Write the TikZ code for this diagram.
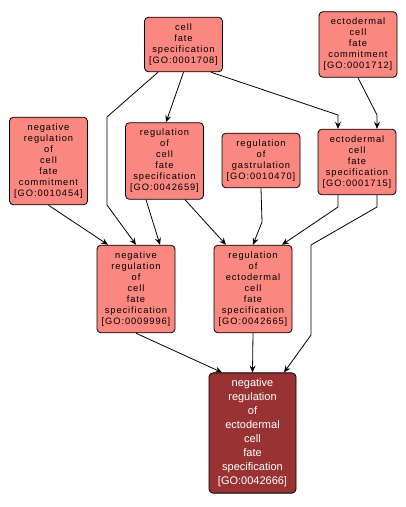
\documentclass[tikz,border=0pt]{standalone}
\usepackage{fontspec}
\setmainfont{Liberation Sans}
\newfontfamily\gofont[LetterSpace=10]{Liberation Sans}
\usetikzlibrary{arrows.meta}
\definecolor{termfill}{RGB}{250,135,128}
\definecolor{queryfill}{RGB}{153,51,51}

\begin{document}
\begin{tikzpicture}[x=1pt,y=1pt,yscale=-1,
    term/.style={draw=black, line width=0.8pt, fill=termfill, rounded corners=4pt, align=center,
        minimum width=78pt, inner xsep=2pt, inner ysep=6.5pt,
        font={\gofont\fontsize{9.3}{11}\selectfont}},
    query/.style={term, fill=queryfill, text=white, minimum width=87pt, inner ysep=6pt,
        font={\fontsize{11}{14}\selectfont}},
    isa/.style={draw=black, line width=0.8pt, -{Stealth[length=7pt,width=6pt,inset=2.5pt]}}]
        %set diagram to the size of the reference
        \useasboundingbox (0,0) rectangle (406,507);

        % Term Nodes
        \node [term] (cfs)   at (183.5,44.5) {cell\\fate\\specification\\{[GO:0001708]}};
        \node [term] (ecfc)  at (358,44.5)   {ectodermal\\cell\\fate\\commitment\\{[GO:0001712]}};
        \node [term] (ncfc)  at (48.5,161)   {negative\\regulation\\of\\cell\\fate\\commitment\\{[GO:0010454]}};
        \node [term] (rcfs)  at (164.5,161)  {regulation\\of\\cell\\fate\\specification\\{[GO:0042659]}};
        \node [term] (rgas)  at (261,160.5)  {regulation\\of\\gastrulation\\{[GO:0010470]}};
        \node [term] (ecfs)  at (357,162)    {ectodermal\\cell\\fate\\specification\\{[GO:0001715]}};
        \node [term] (ncfs)  at (136,289)    {negative\\regulation\\of\\cell\\fate\\specification\\{[GO:0009996]}};
        \node [term] (recfs) at (253,289)    {regulation\\of\\ectodermal\\cell\\fate\\specification\\{[GO:0042665]}};
        % Query Node
        \node [query] (necfs) at (252.5,433) {negative\\regulation\\of\\ectodermal\\cell\\fate\\specification\\{[GO:0042666]}};

        % Edges
        \draw [isa] ([xshift=-25.5pt]cfs.south) -- (107,117) -- (107,205) -- (ncfs.north);
        \draw [isa] (cfs.south) -- ([xshift=1.5pt]rcfs.north);
        \draw [isa] ([xshift=27.5pt]cfs.south) -- (338,115) -- ([xshift=-19pt]ecfs.north);
        \draw [isa] (ecfc.south) -- (377,115) -- ([xshift=20pt]ecfs.north);
        \draw [isa] (ncfc.south) -- ([xshift=-28pt]ncfs.north);
        \draw [isa] ([xshift=-18.5pt]rcfs.south) -- ([xshift=24pt]ncfs.north);
        \draw [isa] ([xshift=20.5pt]rcfs.south) -- ([xshift=-27pt]recfs.north);
        \draw [isa] (rgas.south) -- (262,222) -- (recfs.north);
        \draw [isa] ([xshift=-19pt]ecfs.south) -- (338,207) -- ([xshift=29pt]recfs.north);
        \draw [isa] ([xshift=20pt]ecfs.south) -- (377,207) -- (311,245) -- (311,335) -- ([xshift=31.5pt]necfs.north);
        \draw [isa] (ncfs.south) -- ([xshift=-30.5pt]necfs.north);
        \draw [isa] (recfs.south) -- (necfs.north);

\end{tikzpicture}
\end{document}
